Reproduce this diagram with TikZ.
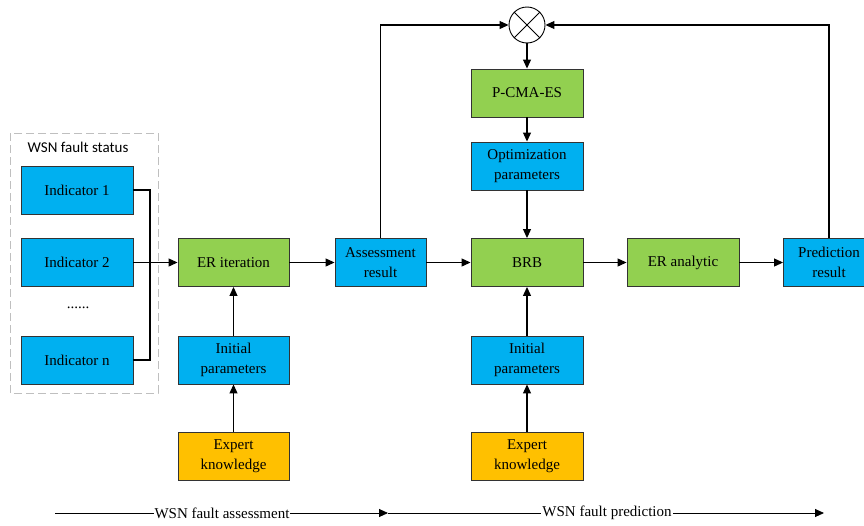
\documentclass[tikz,border=0pt]{standalone}
\usepackage{fontspec}
\setmainfont{Liberation Serif}
\newfontfamily\tnr{Liberation Serif}
\newfontfamily\carl{Carlito}
\usetikzlibrary{arrows.meta}
\definecolor{cblue}{HTML}{00B0F0}
\definecolor{cgreen}{HTML}{92D050}
\definecolor{corange}{HTML}{FFC000}
\begin{document}
\begin{tikzpicture}[x=1pt,y=-1pt,
  box/.style={draw=black!80,line width=0.9pt,minimum height=48pt,inner sep=0pt,align=center,font=\tnr\fontsize{15}{20}\selectfont},
  bluebox/.style={box,fill=cblue},
  greenbox/.style={box,fill=cgreen},
  orangebox/.style={box,fill=corange},
  conn/.style={line width=1.1pt},
  arr/.style={conn,-{Triangle[length=9pt,width=8pt]}},
  lbl/.style={font=\tnr\fontsize{15}{17}\selectfont}
]
\useasboundingbox (0,0) rectangle (864,525);
\draw[gray!50,line width=1pt,dash pattern=on 8pt off 4pt] (10,133) rectangle (158,393);
\node[font=\carl\fontsize{15}{17}\selectfont] (title) at (78,147) {WSN fault status};
\node[bluebox,minimum width=112pt] (ind1) at (77,190) {Indicator 1};
\node[bluebox,minimum width=112pt] (ind2) at (77,262.5) {Indicator 2};
\node[lbl] (dots) at (78,308) {......};
\node[bluebox,minimum width=112pt] (indn) at (77,360) {Indicator n};
\node[greenbox,minimum width=111pt] (er) at (233.5,262.5) {ER iteration};
\node[bluebox,minimum width=111pt] (ip1) at (233.5,360) {Initial\\parameters};
\node[orangebox,minimum width=111pt] (ek1) at (233.5,456) {Expert\\knowledge};
\node[bluebox,minimum width=91pt] (ar) at (380.5,262.5) {Assessment\\result};
\node[greenbox,minimum width=112pt] (brb) at (527,262.5) {BRB};
\node[bluebox,minimum width=112pt] (op) at (527,166) {Optimization\\parameters};
\node[greenbox,minimum width=112pt] (pc) at (527,93) {P-CMA-ES};
\node[draw=black,line width=0.9pt,circle,minimum size=36pt,inner sep=0pt,fill=white] (circ) at (527,25) {};
\draw[line width=0.9pt] (circ.north west) -- (circ.south east) (circ.north east) -- (circ.south west);
\node[greenbox,minimum width=112pt] (era) at (683,262.5) {ER analytic};
\node[bluebox,minimum width=91pt] (pr) at (829,262.5) {Prediction\\result};
\node[bluebox,minimum width=112pt] (ip2) at (527,360) {Initial\\parameters};
\node[orangebox,minimum width=112pt] (ek2) at (527,456) {Expert\\knowledge};
% connectors
\coordinate (j) at (150,262.5);
\draw[conn] (ind1.east) -| (j);
\draw[conn] (indn.east) -| (j);
\draw[arr] (ind2.east) -- (er.west);
\draw[arr] (ip1) -- (er);
\draw[arr] (ek1) -- (ip1);
\draw[arr] (er.east) -- (ar.west);
\draw[arr] (ar.east) -- (brb.west);
\draw[arr] (brb.east) -- (era.west);
\draw[arr] (era.east) -- (pr.west);
\draw[arr] (ip2) -- (brb);
\draw[arr] (ek2) -- (ip2);
\draw[arr] (op) -- (brb);
\draw[arr] (pc) -- (op);
\draw[arr] (circ) -- (pc);
\draw[arr] (ar.north) |- (circ.west);
\draw[arr] (pr.north) |- (circ.east);
% bottom phases
\coordinate (b0) at (55,513);
\coordinate (b1) at (388,513);
\coordinate (b2) at (824,513);
\draw[arr,line width=0.9pt] (b0) -- (b1);
\draw[arr,line width=0.9pt] (b1) -- (b2);
\node[fill=white,inner sep=1pt,lbl] (t1) at (222,513) {WSN fault assessment};
\node[fill=white,inner sep=1pt,lbl] (t2) at (607,513) {WSN fault prediction};
\end{tikzpicture}
\end{document}
